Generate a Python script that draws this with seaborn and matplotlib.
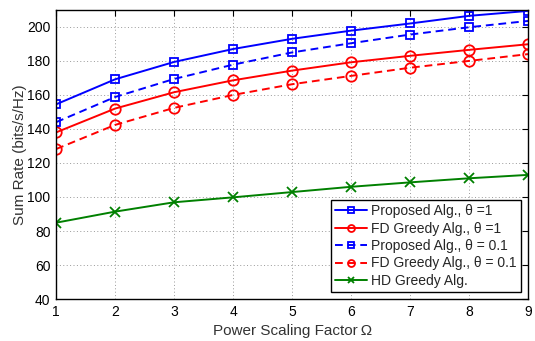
import numpy as np
import pandas as pd
import matplotlib
matplotlib.use('Agg')
import matplotlib.pyplot as plt
import seaborn as sns

# data
omega = [1, 2, 3, 4, 5, 6, 7, 8, 9]
prop_1 = [154.5, 169.2, 179.4, 187.0, 193.0, 197.8, 202.0, 206.5, 209.4]
fd_1 = [138.0, 152.0, 161.6, 168.6, 174.3, 179.2, 183.0, 186.5, 189.8]
prop_01 = [144.0, 158.8, 169.4, 177.8, 185.0, 190.4, 195.5, 199.8, 203.5]
fd_01 = [128.2, 142.4, 152.4, 160.0, 166.3, 171.2, 176.0, 180.0, 184.0]
hd = [84.9, 91.4, 96.9, 99.8, 102.9, 106.0, 108.6, 111.0, 113.0]

labels = ['Proposed Alg., \u03b8 =1', 'FD Greedy Alg., \u03b8 =1',
          'Proposed Alg., \u03b8 = 0.1', 'FD Greedy Alg., \u03b8 = 0.1',
          'HD Greedy Alg.']
series = [prop_1, fd_1, prop_01, fd_01, hd]

df = pd.DataFrame({'omega': omega * 5,
                   'rate': sum(series, []),
                   'alg': np.repeat(labels, len(omega))})

sns.set_style('white')
plt.rcParams['font.family'] = ['Liberation Sans', 'DejaVu Sans']

fig = plt.figure(figsize=(5.35, 3.41), dpi=100)
ax = fig.add_axes([0.105, 0.123, 0.882, 0.848])

pal = {labels[0]: '#0000ff', labels[1]: '#ff0000', labels[2]: '#0000ff',
       labels[3]: '#ff0000', labels[4]: '#008000'}
marks = {labels[0]: 's', labels[1]: 'o', labels[2]: 's', labels[3]: 'o', labels[4]: 'x'}
dash = {labels[0]: '', labels[1]: '', labels[2]: (4, 2.5), labels[3]: (4, 2.5), labels[4]: ''}
msize = {labels[0]: 5.5, labels[1]: 7.5, labels[2]: 5.5, labels[3]: 7.5, labels[4]: 7}

for lab in labels:
    d = df[df['alg'] == lab]
    ls = '-' if dash[lab] == '' else (0, dash[lab])
    sns.lineplot(data=d, x='omega', y='rate', ax=ax, color=pal[lab], label=lab,
                 marker=marks[lab], markersize=msize[lab], markerfacecolor='none',
                 markeredgecolor=pal[lab], markeredgewidth=1.3, linewidth=1.4,
                 linestyle=ls)

ax.set_xlim(1, 9)
ax.set_ylim(40, 210)
ax.set_xticks(omega)
ax.set_yticks(range(40, 201, 20))
ax.grid(True, linestyle=(0, (1, 2.5)), color='#999999', linewidth=0.7)
for s in ax.spines.values():
    s.set_color('black')
    s.set_linewidth(1.0)
ax.tick_params(direction='in', length=4, width=0.8, top=True, right=True,
               labelsize=10, colors='black', pad=4)
ax.set_xlabel('Power Scaling Factor\u2009\u03a9', fontsize=11, color='#333333')
ax.set_ylabel('Sum Rate (bits/s/Hz)', fontsize=11, labelpad=0, color='#333333')

leg = ax.legend(loc='lower right', fontsize=10, frameon=True, fancybox=False,
                edgecolor='black', framealpha=1, borderpad=0.3, labelspacing=0.25,
                handlelength=2.3, handletextpad=0.3, borderaxespad=0.5)
leg.get_frame().set_linewidth(1.0)
for h in leg.legend_handles:
    h.set_markersize(5)

plt.savefig('out.png', dpi=100)
